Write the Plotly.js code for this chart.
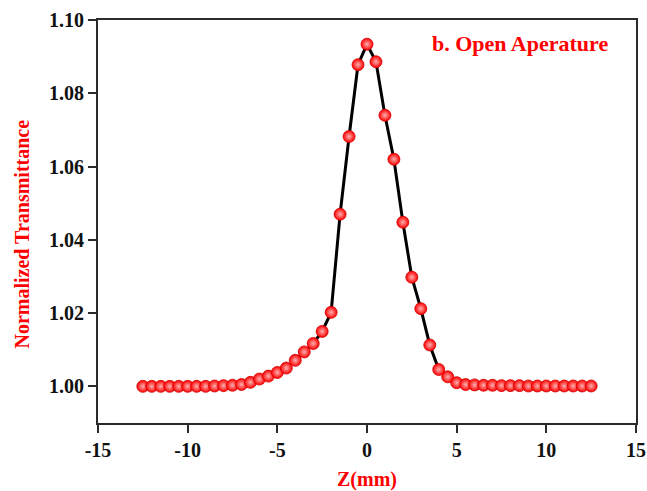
<!DOCTYPE html>
<html>
<head>
<meta charset="utf-8">
<script src="https://cdn.plot.ly/plotly-3.0.1.min.js"></script>
<style>
  html, body { margin: 0; padding: 0; background: #ffffff; }
  #chart { width: 647px; height: 491px; }
</style>
</head>
<body>
<div id="chart"></div>
<script>
// Open-aperture Z-scan: sample position Z (mm) vs normalized transmittance
const zPositions = [
  -12.5, -12.0, -11.5, -11.0, -10.5, -10.0, -9.5, -9.0, -8.5, -8.0,
  -7.5, -7.0, -6.5, -6.0, -5.5, -5.0, -4.5, -4.0, -3.5, -3.0,
  -2.5, -2.0, -1.5, -1.0, -0.5, 0.0, 0.5, 1.0, 1.5, 2.0,
  2.5, 3.0, 3.5, 4.0, 4.5, 5.0, 5.5, 6.0, 6.5, 7.0,
  7.5, 8.0, 8.5, 9.0, 9.5, 10.0, 10.5, 11.0, 11.5, 12.0, 12.5
];
const transmittance = [
  1.0000, 1.0000, 1.0000, 1.0000, 1.0000, 1.0000, 1.0000, 1.0000, 1.0001, 1.0002,
  1.0003, 1.0005, 1.0011, 1.0020, 1.0028, 1.0038, 1.0050, 1.0071, 1.0094, 1.0117,
  1.0150, 1.0202, 1.0470, 1.0682, 1.0878, 1.0934, 1.0886, 1.0740, 1.0620, 1.0448,
  1.0298, 1.0212, 1.0113, 1.0046, 1.0026, 1.0010, 1.0005, 1.0004, 1.0003, 1.0003,
  1.0002, 1.0002, 1.0002, 1.0001, 1.0001, 1.0001, 1.0001, 1.0001, 1.0001, 1.0001, 1.0001
];
const xTicks = [-15, -10, -5, 0, 5, 10, 15];
const yTicks = [1.00, 1.02, 1.04, 1.06, 1.08, 1.10];
const xTitle = 'Z(mm)';
const yTitle = 'Normalized Transmittance';
const panelLabel = 'b. Open Aperature';

const serif = 'Liberation Serif, Times New Roman, serif';
const axisColor = '#2b2b2b';
const titleFont = { family: serif, size: 20, color: '#ff0000', weight: 'bold' };

const trace = {
  x: zPositions,
  y: transmittance,
  type: 'scatter',
  mode: 'lines+markers',
  line: { color: '#000000', width: 3 },
  marker: {
    color: '#ff0000',
    size: 12,
    line: { color: '#d40000', width: 0.8 },
    gradient: { type: 'radial', color: '#ffb0b0' }
  },
  hoverinfo: 'skip'
};

const axisCommon = {
  showline: true,
  linecolor: axisColor,
  linewidth: 2,
  mirror: true,
  ticks: 'outside',
  ticklen: 8,
  tickwidth: 2,
  tickcolor: axisColor,
  showgrid: false,
  zeroline: false,
  tickfont: { family: serif, size: 20, color: '#111111', weight: 'bold' }
};

const layout = {
  width: 647,
  height: 491,
  margin: { l: 98, r: 11, t: 20, b: 68 },
  paper_bgcolor: '#ffffff',
  plot_bgcolor: '#ffffff',
  showlegend: false,
  xaxis: Object.assign({}, axisCommon, {
    range: [-15, 15],
    tickvals: xTicks,
    ticktext: xTicks.map(String),
    title: { text: xTitle, standoff: 18, font: titleFont }
  }),
  yaxis: Object.assign({}, axisCommon, {
    range: [0.99, 1.10],
    tickvals: yTicks,
    ticktext: yTicks.map(v => v.toFixed(2))
  }),
  annotations: [
    {
      // vertical axis title, set a little below the plot's mid-height
      text: yTitle,
      textangle: -90,
      x: -0.141, y: 0.468,
      xref: 'paper', yref: 'paper',
      xanchor: 'center', yanchor: 'middle',
      showarrow: false,
      font: titleFont
    },
    {
      text: panelLabel,
      x: 13.55, y: 1.0935,
      xref: 'x', yref: 'y',
      xanchor: 'right', yanchor: 'middle',
      showarrow: false,
      font: { family: serif, size: 22, color: '#ff0000', weight: 'bold' }
    }
  ]
};

Plotly.newPlot('chart', [trace], layout, { displayModeBar: false, staticPlot: true });
</script>
</body>
</html>
